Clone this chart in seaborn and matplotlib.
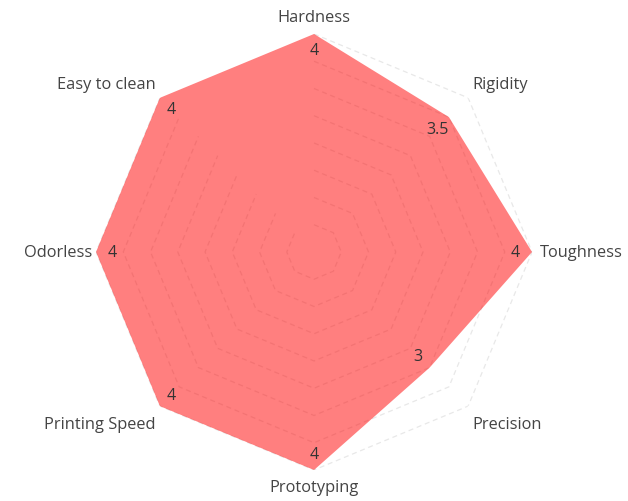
import numpy as np
import matplotlib
matplotlib.use("Agg")
import matplotlib.pyplot as plt
import seaborn as sns

# categories clockwise from the top
categories = ["Hardness", "Rigidity", "Toughness", "Precision",
              "Prototyping", "Printing Speed", "Odorless", "Easy to clean"]
scores = [4, 3.5, 4, 3, 4, 4, 4, 4]
value_labels = ["4", "3.5", "4", "3", "4", "4", "4", "4"]
ring_levels = [0.5, 1, 1.5, 2, 2.5, 3, 3.5, 4]

sns.set_style("white")
plt.rcParams["font.family"] = ["Open Sans", "DejaVu Sans"]

n = len(categories)
angles = np.arange(n) * 2 * np.pi / n

fig = plt.figure(figsize=(6.28, 5.02), dpi=100)
ax = fig.add_axes([0.1529, 0.0618, 0.6943, 0.8685], projection="polar")
ax.set_theta_offset(np.pi / 2)
ax.set_theta_direction(-1)
ax.set_ylim(0, 4)
ax.grid(False)
ax.spines["polar"].set_visible(False)
ax.set_xticks([])
ax.set_yticks([])

# octagon grid rings
closed = np.append(angles, angles[0])
for lvl in ring_levels:
    sns.lineplot(x=closed, y=[lvl] * (n + 1), ax=ax, sort=False,
                 color="#e8e8e8", linewidth=0.9, linestyle=(0, (4, 3)), zorder=1)

# filled area
vals = np.append(scores, scores[0])
ax.fill(closed, vals, color="#ff0000", alpha=0.5, linewidth=0, zorder=2)

# value labels just inside the vertices
for a, v, lab in zip(angles, scores, value_labels):
    ax.text(a, v - 0.3, lab, ha="center", va="center", fontsize=11.5,
            color="#333333", zorder=3)

# category labels
fs = 11.8
for a, cat in zip(angles, categories):
    deg = np.degrees(a) % 360
    if deg == 0 or deg == 180:
        ax.text(a, 4.32, cat, ha="center", va="center", fontsize=fs, color="#444444")
    elif deg == 90:
        ax.text(a, 4.15, cat, ha="left", va="center", fontsize=fs, color="#444444")
    elif deg == 270:
        ax.text(a, 4.07, cat, ha="right", va="center", fontsize=fs, color="#444444")
    else:
        right = deg < 180
        lower = 90 < deg < 270
        dx = -7 if right else 7
        dy = -6 if lower else 2
        ax.annotate(cat, xy=(a, 4.3), xytext=(dx, dy), textcoords="offset pixels",
                    ha="left" if right else "right", va="center",
                    fontsize=fs, color="#444444", annotation_clip=False)

ax.set_xlabel("")
ax.set_ylabel("")
fig.savefig("out.png", dpi=100)
